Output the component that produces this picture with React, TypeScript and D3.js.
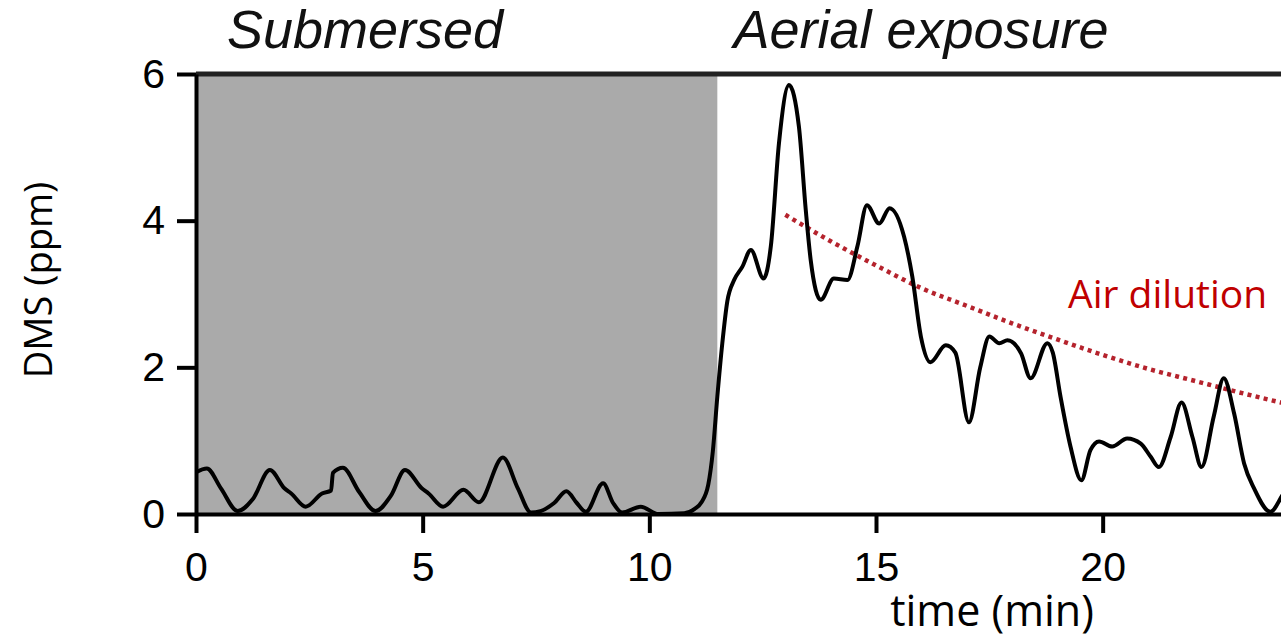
import * as React from "react";
import * as d3 from "d3";

// DMS trace (minutes, ppm)
const times = [
	0, 0.24, 0.55, 0.92, 1.25, 1.63, 1.95, 2.1, 2.42, 2.78, 2.98, 3.02, 3.24, 3.6,
	3.96, 4.3, 4.61, 4.98, 5.13, 5.45, 5.9, 6.24, 6.77, 7.1, 7.39, 7.6, 7.9, 8.17,
	8.4, 8.6, 8.98, 9.2, 9.4, 9.81, 10.2, 10.77, 11.0, 11.15, 11.3, 11.4, 11.5,
	11.61, 11.72, 11.87, 12.05, 12.24, 12.52, 12.68, 12.86, 13.08, 13.3, 13.45,
	13.56, 13.78, 14.07, 14.37, 14.59, 14.8, 15.07, 15.3, 15.62, 15.8, 15.99, 16.2,
	16.54, 16.75, 17.05, 17.3, 17.5, 17.72, 17.9, 18.2, 18.41, 18.78, 18.9, 19.07,
	19.29, 19.53, 19.73, 19.92, 20.21, 20.54, 20.84, 21.06, 21.24, 21.5, 21.74,
	21.98, 22.18, 22.45, 22.67, 22.9, 23.12, 23.34, 23.7, 23.95, 24.1,
];
const dms = [
	0.57, 0.62, 0.35, 0.04, 0.2, 0.6, 0.35, 0.28, 0.1, 0.28, 0.32, 0.56, 0.63, 0.3,
	0.04, 0.25, 0.6, 0.35, 0.28, 0.1, 0.33, 0.16, 0.77, 0.35, 0.02, 0.04, 0.15, 0.31,
	0.15, 0.03, 0.42, 0.15, 0.02, 0.1, 0.0, 0.01, 0.07, 0.16, 0.4, 0.85, 1.6, 2.33,
	2.9, 3.19, 3.37, 3.6, 3.21, 3.65, 5.06, 5.85, 5.28, 4.15, 3.46, 2.92, 3.21, 3.19,
	3.65, 4.21, 3.96, 4.17, 3.78, 3.24, 2.42, 2.07, 2.3, 2.2, 1.25, 2.0, 2.42, 2.33,
	2.37, 2.19, 1.85, 2.33, 2.2, 1.6, 0.92, 0.46, 0.87, 0.99, 0.92, 1.03, 0.96, 0.78,
	0.64, 1.05, 1.52, 1.05, 0.64, 1.33, 1.85, 1.37, 0.69, 0.35, 0.03, 0.24, 0.4,
];

// "Air dilution" guide curve
const dilutionTimes = [13, 14, 15, 16, 17, 18, 19, 20, 21, 22, 23, 24];
const dilutionValues = [4.08, 3.72, 3.39, 3.08, 2.84, 2.6, 2.38, 2.17, 1.98, 1.82, 1.66, 1.51];

const submersedEnd = 11.5;
const xTicks = [0, 5, 10, 15, 20];
const yTicks = [0, 2, 4, 6];

const tickFont = "'Liberation Sans', Arial, sans-serif";
const labelFont = "'Open Sans', 'Noto Sans', sans-serif";

function styleAxis(g: d3.Selection<SVGGElement, unknown, null, undefined>) {
	g.attr("font-size", 41)
		.attr("font-family", tickFont)
		.call((g) => g.selectAll("path,line").attr("stroke", "#000").attr("stroke-width", 4))
		.call((g) => g.selectAll("text").attr("fill", "#000"));
}

function App() {
	const width = 1281;
	const height = 641;
	const x = d3.scaleLinear([0, 24], [196, 1284]);
	const y = d3.scaleLinear([0, 6], [514, 74]);

	const gxRef = React.useRef<SVGGElement>(null);
	const gyRef = React.useRef<SVGGElement>(null);

	React.useEffect(() => {
		d3.select(gxRef.current!)
			.call(
				d3
					.axisBottom(x)
					.tickValues(xTicks)
					.tickSize(19)
					.tickSizeOuter(0)
					.tickPadding(19)
					.tickFormat(d3.format("d"))
			)
			.call(styleAxis);

		d3.select(gyRef.current!)
			.call(
				d3
					.axisLeft(y)
					.tickValues(yTicks)
					.tickSize(19)
					.tickSizeOuter(0)
					.tickPadding(12)
					.tickFormat(d3.format("d"))
			)
			.call(styleAxis);
	}, []);

	const line = d3
		.line<number>()
		.x((_, i) => x(times[i]))
		.y((d) => y(d))
		.curve(d3.curveMonotoneX);

	const dilutionLine = d3
		.line<number>()
		.x((_, i) => x(dilutionTimes[i]))
		.y((d) => y(d))
		.curve(d3.curveMonotoneX);

	return (
		<svg
			width={width}
			height={height}
			style={{ position: "absolute", left: 0, top: 0, background: "#fff" }}
		>
			<rect
				x={x(0)}
				y={y(6)}
				width={x(submersedEnd) - x(0)}
				height={y(0) - y(6)}
				fill="#aaaaaa"
			/>
			<path
				d={dilutionLine(dilutionValues) || ""}
				fill="none"
				stroke="#b5232d"
				strokeWidth={4.5}
				strokeDasharray="4 4.3"
			/>
			<path
				d={line(dms) || ""}
				fill="none"
				stroke="#000"
				strokeWidth={4}
				strokeLinejoin="round"
			/>
			<line x1={x(0)} x2={x(24)} y1={y(6)} y2={y(6)} stroke="#222" strokeWidth={5} />
			<g ref={gxRef} transform={`translate(0 ${y(0)})`} />
			<g ref={gyRef} transform={`translate(${x(0)} 0)`} />

			<text
				x={365}
				y={48}
				textAnchor="middle"
				fontStyle="italic"
				fontFamily={tickFont}
				fontSize={54}
				fill="#111"
			>
				Submersed
			</text>
			<text
				x={921}
				y={48}
				textAnchor="middle"
				fontStyle="italic"
				fontFamily={tickFont}
				fontSize={54}
				fill="#111"
			>
				Aerial exposure
			</text>
			<text x={1068} y={308} fontFamily={labelFont} fontSize={39} fill="#c00000">
				Air dilution
			</text>
			<text
				transform="translate(52 280) rotate(-90)"
				textAnchor="middle"
				fontFamily={labelFont}
				fontSize={38}
				fill="#000"
			>
				DMS (ppm)
			</text>
			<text x={992} y={626} textAnchor="middle" fontFamily={labelFont} fontSize={43} fill="#000">
				time (min)
			</text>
		</svg>
	);
}

export default App;
